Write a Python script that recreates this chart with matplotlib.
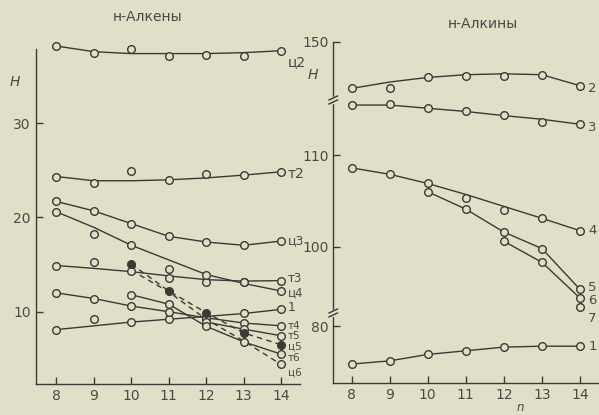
import numpy as np
import matplotlib
import matplotlib.pyplot as plt
from matplotlib.lines import Line2D
from matplotlib.patches import Rectangle

matplotlib.use('Agg')

nan = np.nan
n_vals = [8, 9, 10, 11, 12, 13, 14]

# н-Алкены: measured points and the drawn curves
c2_pts = [38.2, 37.5, 37.9, 37.1, 37.2, 37.1, 37.7]
c2_fit = [38.2, 37.6, 37.4, 37.4, 37.4, 37.5, 37.7]
t2_pts = [24.35, 23.7, 24.95, 23.95, 24.6, 24.5, 24.85]
t2_fit = [24.35, 23.9, 23.9, 24.0, 24.2, 24.5, 24.85]
c3_pts = [21.7, 20.7, 19.35, 18.0, 17.4, 17.05, 17.5]
c3_fit = [21.7, 20.7, 19.35, 18.0, 17.4, 17.05, 17.5]
c4_pts = [20.6, 18.25, 17.05, 14.5, 13.9, 13.1, 12.2]
c4_fit = [20.6, 18.95, 17.05, 15.5, 13.95, 13.0, 12.2]
t3_pts = [14.9, 15.3, 14.35, 13.6, 13.2, 13.2, 13.3]
t3_fit = [14.9, 14.6, 14.25, 13.8, 13.4, 13.25, 13.3]
a1_pts = [8.1, 9.2, 8.95, 9.2, 9.3, 9.85, 10.25]
a1_fit = [8.1, 8.5, 8.9, 9.2, 9.5, 9.8, 10.25]
t4_pts = [12.0, 11.4, 10.6, 10.0, 9.35, 8.8, 8.5]
t5_pts = [nan, nan, nan, nan, 8.9, 8.15, 7.45]
t6_pts = [nan, nan, 11.8, 10.8, 8.45, 6.8, 5.5]
c5_pts = [nan, nan, 15.05, 12.2, 9.9, 7.75, 6.5]
c6_pts = [nan, nan, nan, nan, nan, nan, 4.4]
c6_fit = [nan, nan, 14.4, 12.1, 9.2, 6.9, 4.4]

# н-Алкины
y2_pts = [144.9, 145.0, 146.1, 146.3, 146.3, 146.4, 145.2]
y2_fit = [144.9, 145.6, 146.1, 146.4, 146.5, 146.4, 145.2]
y3_pts = [115.45, 115.55, 115.15, 114.8, 114.35, 113.6, 113.35]
y3_fit = [115.45, 115.45, 115.1, 114.75, 114.3, 113.9, 113.35]
y4_pts = [108.6, 107.9, 106.9, 105.3, 104.0, 103.1, 101.75]
y4_fit = [108.6, 107.9, 106.9, 105.7, 104.4, 103.1, 101.75]
y5_pts = [nan, nan, 106.0, 104.1, 101.6, 99.8, 95.35]
y6_pts = [nan, nan, nan, nan, 100.6, 98.3, 94.4]
y7_pts = [nan, nan, nan, nan, nan, nan, 93.4]
y1_pts = [75.85, 76.2, 76.9, 77.3, 77.7, 77.8, 77.8]

BG = '#e2dfc8'
INK = '#3a3a36'
TXT = '#4a4a45'
W, HH = 599, 415

plt.rcParams['font.family'] = ['DejaVu Sans']

fig = plt.figure(figsize=(W / 100, HH / 100), dpi=100)
fig.patch.set_facecolor(BG)


def px_axes(x0, y0, x1, y1):
    ax = fig.add_axes([x0 / W, 1 - y1 / HH, (x1 - x0) / W, (y1 - y0) / HH])
    ax.set_facecolor('none')
    for s in ['top', 'right']:
        ax.spines[s].set_visible(False)
    for s in ['left', 'bottom']:
        ax.spines[s].set_color(INK)
        ax.spines[s].set_linewidth(1.0)
    ax.tick_params(direction='in', color=INK, labelcolor=TXT, labelsize=10, length=5, width=1.0)
    return ax


def draw(ax, pts, fit=None, filled=False, dashed=False):
    line = fit if fit is not None else pts
    ax.plot(n_vals, line, color=INK, lw=1.0, ls=(0, (4, 3)) if dashed else '-',
            clip_on=False, zorder=2)
    ax.plot(n_vals, pts, ls='none', marker='o', ms=5.5, mew=1.0, mec=INK,
            mfc=INK if filled else BG, clip_on=False, zorder=3)


def end_label(ax, text, y, dy, dx=5, size=10):
    ax.annotate(text, xy=(14, y), xytext=(dx, dy), textcoords='offset points',
                va='center', ha='left', fontsize=size, color=TXT, annotation_clip=False)


# ---- left panel: н-Алкены
ax = px_axes(35.5, 33.8, 299.6, 384)
ax.set_xlim(7.439, 14.497)
ax.set_ylim(2.325, 39.5)
ax.spines['left'].set_bounds(2.325, 37.9)
ax.set_xticks(n_vals)
ax.set_yticks([10, 20, 30])

left_series = [
    ('ц2', c2_pts, c2_fit, False, False, -8, 10),
    ('т2', t2_pts, t2_fit, False, False, -1.5, 10),
    ('ц3', c3_pts, c3_fit, False, False, 0, 9),
    ('т3', t3_pts, t3_fit, False, False, 1.5, 8.5),
    ('ц4', c4_pts, c4_fit, False, False, -1.5, 8.5),
    ('1', a1_pts, a1_fit, False, False, 1, 9),
    ('т4', t4_pts, None, False, False, 0, 7.5),
    ('т5', t5_pts, None, False, False, -0.5, 7.5),
    ('ц5', c5_pts, None, True, True, -1.5, 7.5),
    ('т6', t6_pts, None, False, False, -3, 7.5),
    ('ц6', c6_pts, c6_fit, False, True, -6, 7.5),
]
for name, pts, fit, filled, dashed, dy, size in left_series:
    draw(ax, pts, fit, filled, dashed)
    end_label(ax, name, pts[-1], dy, size=size)

fig.text(15 / W, 1 - 82 / HH, 'H', fontsize=10, color=TXT, style='italic', ha='center', va='center')
fig.text(148 / W, 1 - 17 / HH, 'н-Алкены', fontsize=10, color=TXT, ha='center', va='center')

# ---- right panel: н-Алкины (broken axis, three pieces)
ax_top = px_axes(333.3, 41.7, 599, 100)
ax_mid = px_axes(333.3, 100, 599, 313)
ax_bot = px_axes(333.3, 313, 599, 382.7)
for a in (ax_top, ax_mid, ax_bot):
    a.set_xlim(7.522, 14.5)
    a.set_xticks(n_vals)
for a in (ax_top, ax_mid):
    a.spines['bottom'].set_visible(False)
    a.tick_params(axis='x', bottom=False, labelbottom=False)
ax_top.set_ylim(143.64, 150)
ax_mid.set_ylim(92.77, 116.0)
ax_bot.set_ylim(73.82, 81.42)
ax_top.set_yticks([150])
ax_mid.set_yticks([100, 110])
ax_bot.set_yticks([80])

right_series = [
    (ax_top, '2', y2_pts, y2_fit, -2),
    (ax_mid, '3', y3_pts, y3_fit, -2),
    (ax_mid, '4', y4_pts, y4_fit, 0),
    (ax_mid, '5', y5_pts, None, 1.5),
    (ax_mid, '6', y6_pts, None, -1.5),
    (ax_mid, '7', y7_pts, None, -8),
    (ax_bot, '1', y1_pts, None, 0),
]
for a, name, pts, fit, dy in right_series:
    draw(a, pts, fit)
    end_label(a, name, pts[-1], dy, dx=6, size=9.5)

# break marks on the value axis
for yb in (100, 313):
    fig.add_artist(Rectangle(((333.3 - 3) / W, 1 - (yb + 3) / HH), 6 / W, 6 / HH,
                             transform=fig.transFigure, color=BG, zorder=5))
    for off in (-2, 2):
        fig.add_artist(Line2D([329 / W, 337.5 / W],
                              [1 - (yb + off + 2) / HH, 1 - (yb + off - 2) / HH],
                              transform=fig.transFigure, color=INK, lw=1.0, zorder=6))

fig.text(313 / W, 1 - 75 / HH, 'H', fontsize=10, color=TXT, style='italic', ha='center', va='center')
fig.text(483 / W, 1 - 24 / HH, 'н-Алкины', fontsize=10, color=TXT, ha='center', va='center')
fig.text(520 / W, 1 - 414 / HH, 'n', fontsize=8.5, color=TXT, style='italic', ha='center', va='bottom')

fig.savefig('out.png', dpi=100, facecolor=BG)
